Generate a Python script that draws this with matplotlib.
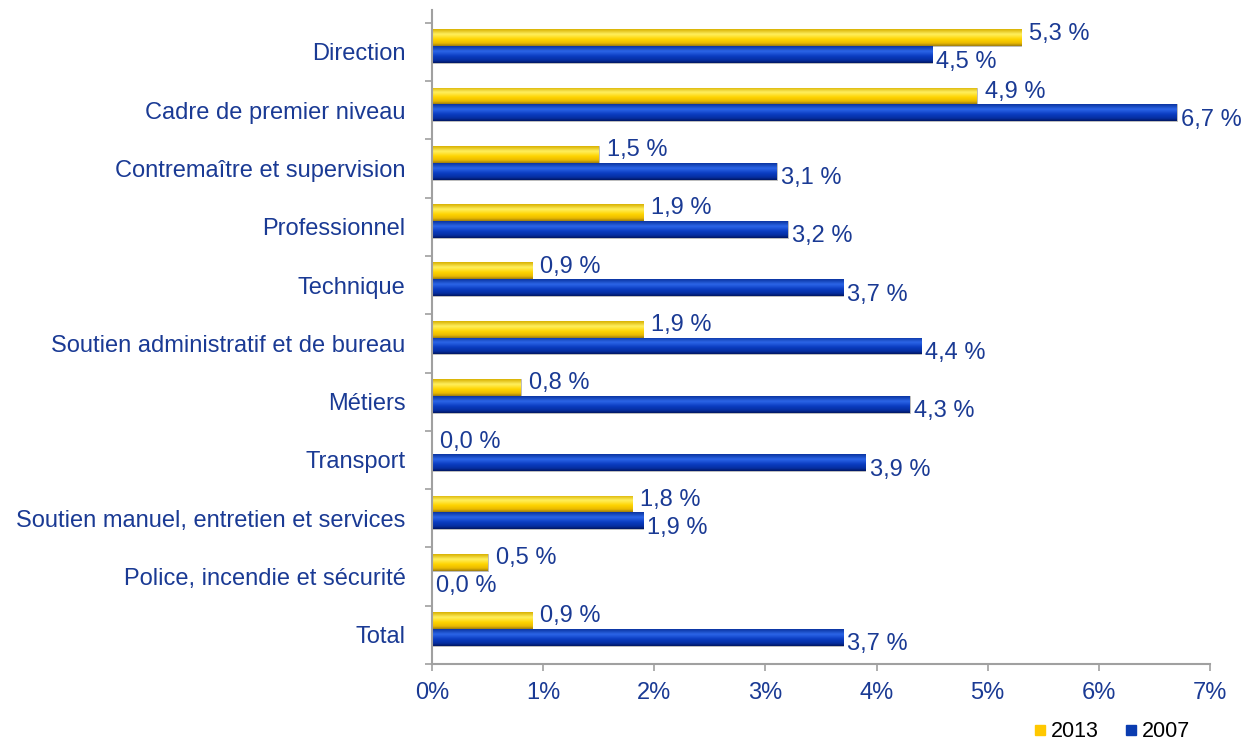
import numpy as np
import matplotlib
matplotlib.use("Agg")
import matplotlib.pyplot as plt
from matplotlib.colors import LinearSegmentedColormap
from matplotlib.lines import Line2D

plt.rcParams['font.family'] = ['Liberation Sans', 'DejaVu Sans']

# données
categories = ["Direction", "Cadre de premier niveau", "Contremaître et supervision",
              "Professionnel", "Technique", "Soutien administratif et de bureau",
              "Métiers", "Transport", "Soutien manuel, entretien et services",
              "Police, incendie et sécurité", "Total"]
vals_2013 = [5.3, 4.9, 1.5, 1.9, 0.9, 1.9, 0.8, 0.0, 1.8, 0.5, 0.9]
vals_2007 = [4.5, 6.7, 3.1, 3.2, 3.7, 4.4, 4.3, 3.9, 1.9, 0.0, 3.7]
xticks = [0, 1, 2, 3, 4, 5, 6, 7]

txt_col = "#1a3a94"
cm_yellow = LinearSegmentedColormap.from_list(
    "y", [(0, "#d8b000"), (0.3, "#fff060"), (0.6, "#ffd400"), (0.85, "#e8b800"), (1, "#9a7a10")])
cm_blue = LinearSegmentedColormap.from_list(
    "b", [(0, "#0a34a0"), (0.3, "#2c66e8"), (0.6, "#0a3cc0"), (0.85, "#062ea0"), (1, "#001660")])

fig = plt.figure(figsize=(12.47, 7.4), dpi=100)
ax = fig.add_axes([0.3464, 0.1027, 0.9703 - 0.3464, 0.9865 - 0.1027])

h = 0.29
y = np.arange(len(categories))
grad = np.linspace(0, 1, 64).reshape(-1, 1)


def grad_bars(ypos, vals, cmap):
    bars = ax.barh(ypos, vals, height=h, color="none", edgecolor="#8a8a8a", linewidth=0.4)
    for b in bars:
        x0, y0 = b.get_x(), b.get_y()
        w, hh = b.get_width(), b.get_height()
        if w <= 0:
            continue
        im = ax.imshow(grad, cmap=cmap, aspect="auto", interpolation="bicubic",
                       extent=[x0, x0 + w, y0 + hh, y0], zorder=2)
        im.set_clip_path(b)
    return bars


grad_bars(y - 0.245, vals_2013, cm_yellow)
grad_bars(y + 0.045, vals_2007, cm_blue)

# étiquettes de valeurs
for i, v in enumerate(vals_2013):
    ax.annotate(f"{v:.1f} %".replace(".", ","), (v, i - 0.245), xytext=(6, 3),
                textcoords="offset points", ha="left", va="center",
                fontsize=17, color=txt_col)
for i, v in enumerate(vals_2007):
    ax.annotate(f"{v:.1f} %".replace(".", ","), (v, i + 0.045), xytext=(3, -5),
                textcoords="offset points", ha="left", va="center",
                fontsize=17, color=txt_col)

ax.set_xlim(0, 7)
ax.set_ylim(10.5, -0.72)
ax.set_xticks(xticks)
ax.set_xticklabels([f"{t}%" for t in xticks])
ax.set_yticks(y)
ax.set_yticklabels(categories)
ax.set_yticks(np.arange(-0.5, len(categories)), minor=True)

for s in ["top", "right"]:
    ax.spines[s].set_visible(False)
for s in ["left", "bottom"]:
    ax.spines[s].set_color("#a0a0a0")
    ax.spines[s].set_linewidth(1.5)

ax.tick_params(axis="y", which="major", length=0, pad=19, labelsize=17, labelcolor=txt_col)
ax.tick_params(axis="y", which="minor", length=5, width=1.2, color="#a0a0a0")
ax.tick_params(axis="x", length=5, width=1.2, color="#a0a0a0", pad=8,
               labelsize=17, labelcolor=txt_col)

handles = [Line2D([], [], marker="s", linestyle="none", color="#ffc800", markersize=7),
           Line2D([], [], marker="s", linestyle="none", color="#0a3cb0", markersize=7)]
fig.legend(handles, ["2013", "2007"], loc="lower right", bbox_to_anchor=(0.970, -0.029),
           ncol=2, frameon=False, fontsize=15.5, handletextpad=0.0, columnspacing=1.0,
           handlelength=1.0)

fig.savefig("out.png", dpi=100)
